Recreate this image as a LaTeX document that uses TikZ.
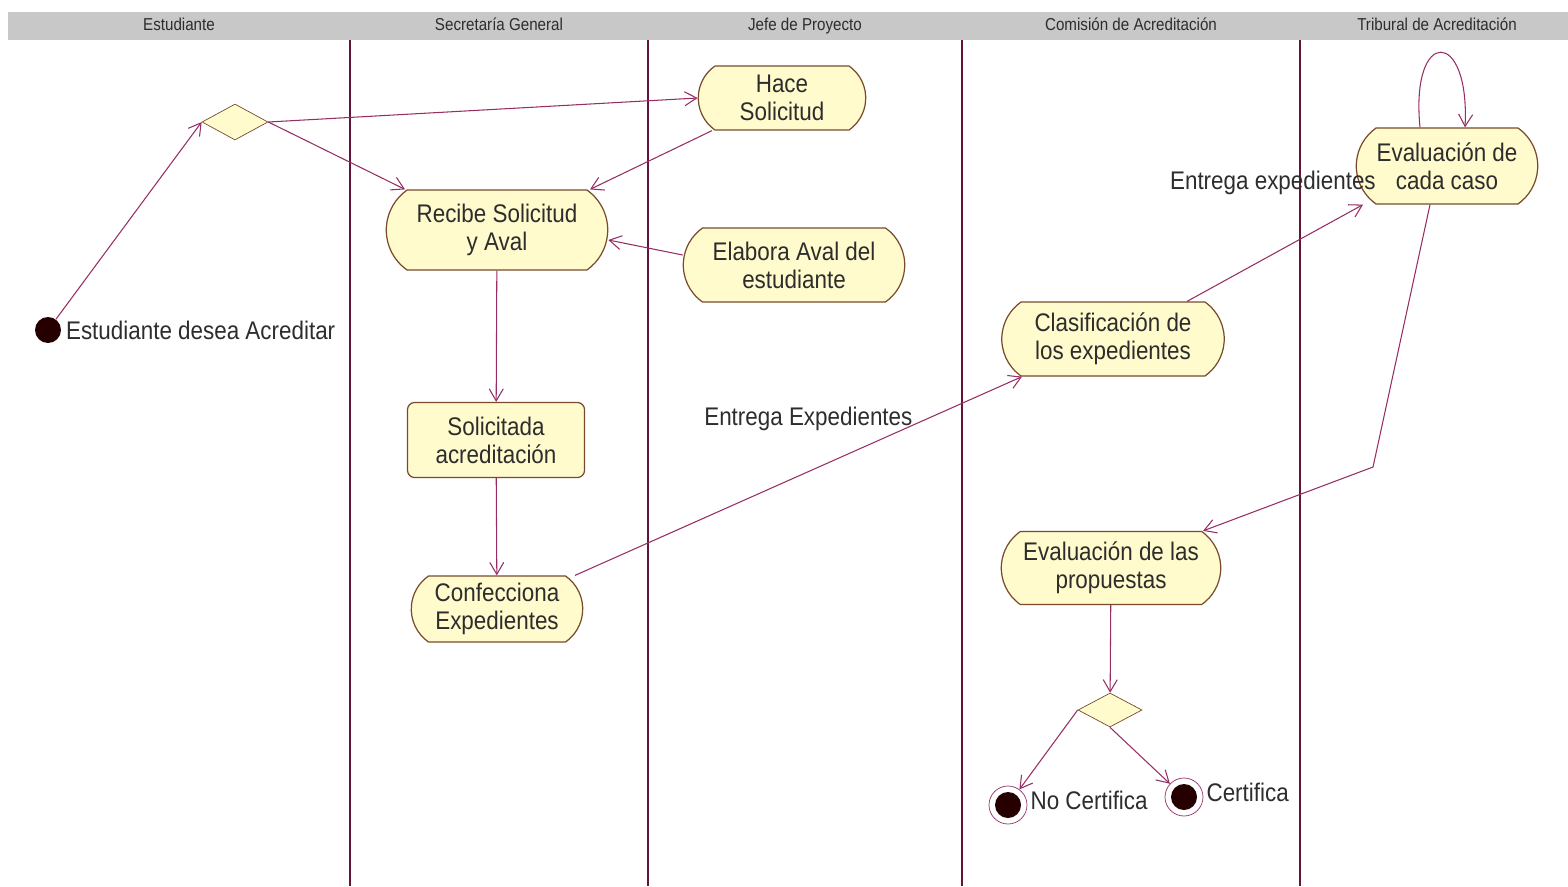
\documentclass[tikz,border=0pt]{standalone}
\usepackage{fontspec}
\setmainfont{Liberation Sans}[FakeStretch=0.88]
\usetikzlibrary{arrows.meta,shapes.geometric,shapes.misc}
\definecolor{lanec}{RGB}{100,20,60}
\definecolor{flowc}{RGB}{150,45,100}
\definecolor{actfill}{RGB}{255,251,204}
\definecolor{actline}{RGB}{120,75,45}
\definecolor{headc}{RGB}{200,200,200}
\definecolor{textc}{RGB}{45,45,45}

\begin{document}
\begin{tikzpicture}[x=0.02cm,y=-0.02cm,
    font=\fontsize{14.5}{16}\selectfont, text=textc,
    actividad/.style={rounded rectangle, rounded rectangle arc length=110,
        draw=actline, line width=0.7pt, fill=actfill, align=center, inner sep=1pt},
    estado/.style={rectangle, rounded corners=4pt, draw=actline, line width=0.7pt, fill=actfill,
        align=center, inner sep=1pt},
    decision/.style={diamond, draw=actline, fill=actfill, inner sep=0pt, aspect=1.8},
    inicio/.style={circle, fill=black!85!red, inner sep=0pt, minimum size=0.52cm},
    final/.style={circle, draw=flowc, fill=white, inner sep=0pt, minimum size=0.76cm,
        path picture={\fill[black!85!red] (path picture bounding box.center) circle (0.26cm);}},
    etiq/.style={label distance=-0.06cm, yshift=0.1cm},
    carril/.style={font=\fontsize{9.8}{11}\selectfont, anchor=base},
    flecha/.style={draw=flowc, line width=0.6pt, -{Straight Barb[length=2.4mm,width=2.8mm]}}
  ]
  \useasboundingbox (0,0) rectangle (1568,886);

  % swimlanes
  \fill[headc] (8,12) rectangle (1568,40);
  \foreach \x/\t [count=\i] in {179/Estudiante, 499/Secretaría General, 805/Jefe de Proyecto,
      1131/Comisión de Acreditación, 1437/Tribural de Acreditación}
    \node[carril] (carril\i) at (\x,30) {\t};
  \foreach \x in {350,648,962,1300}
    \draw[lanec, line width=0.8pt] (\x,40) -- (\x,886);

  % actividades
  \node[inicio, label={[label distance=-0.03cm]right:Estudiante desea Acreditar}] (ini) at (48,330) {};
  \node[decision, minimum width=1.32cm, minimum height=0.72cm] (dec1) at (235,122) {};
  \node[actividad, minimum width=3.42cm, minimum height=1.28cm] (hace) at (782,98) {Hace\\Solicitud};
  \node[actividad, minimum width=4.5cm, minimum height=1.6cm] (recibe) at (497,230) {Recibe Solicitud\\y Aval};
  \node[actividad, minimum width=4.5cm, minimum height=1.48cm] (elabora) at (794,265) {Elabora Aval del\\estudiante};
  \node[estado, minimum width=3.54cm, minimum height=1.5cm] (solic) at (496,440) {Solicitada\\acreditación};
  \node[actividad, minimum width=3.5cm, minimum height=1.32cm] (confec) at (497,609) {Confecciona\\Expedientes};
  \node[actividad, minimum width=4.52cm, minimum height=1.48cm] (clasif) at (1113,339) {Clasificación de\\los expedientes};
  \node[actividad, minimum width=3.7cm, minimum height=1.52cm] (evalc) at (1447,166) {Evaluación de\\cada caso};
  \node[actividad, minimum width=4.46cm, minimum height=1.46cm] (evalp) at (1111,568) {Evaluación de las\\propuestas};
  \node[decision, minimum width=1.28cm, minimum height=0.68cm] (dec2) at (1110,710) {};
  \node[final, label={[etiq]right:No Certifica}] (fin1) at (1008,805) {};
  \node[final, label={[etiq]right:Certifica}] (fin2) at (1184,797) {};
  \coordinate (codo) at (1373,467);

  % transiciones
  \draw[flecha] (ini) -- (dec1.west);
  \draw[flecha] (dec1.east) -- (hace.west);
  \draw[flecha] (dec1.east) -- ([xshift=-1.84cm]recibe.north);
  \draw[flecha] ([xshift=-1.4cm]hace.south) -- ([xshift=1.86cm]recibe.north);
  \draw[flecha] ([yshift=0.2cm]elabora.west) -- ([yshift=-0.2cm]recibe.east);
  \draw[flecha] (recibe) -- (solic);
  \draw[flecha] (solic) -- (confec);
  \draw[flecha] ([xshift=1.56cm]confec.north) -- node[pos=0.76, anchor=east, yshift=0.1cm, inner sep=1pt]{Entrega Expedientes}
    ([xshift=-1.82cm]clasif.south);
  \draw[flecha] ([xshift=1.48cm]clasif.north) -- node[pos=1, anchor=east, xshift=0.3cm, yshift=0.44cm, inner sep=1pt]{Entrega expedientes}
    ([xshift=-1.68cm]evalc.south);
  \draw[flecha] ([xshift=-0.54cm]evalc.north) .. controls +(-10,-100) and +(5,-100) .. ([xshift=0.36cm]evalc.north);
  \draw[flecha] ([xshift=-0.34cm]evalc.south) -- (codo) -- ([xshift=1.84cm]evalp.north);
  \draw[flecha] (evalp) -- (dec2);
  \draw[flecha] (dec2.west) -- (fin1);
  \draw[flecha] (dec2.south) -- (fin2);
\end{tikzpicture}
\end{document}
